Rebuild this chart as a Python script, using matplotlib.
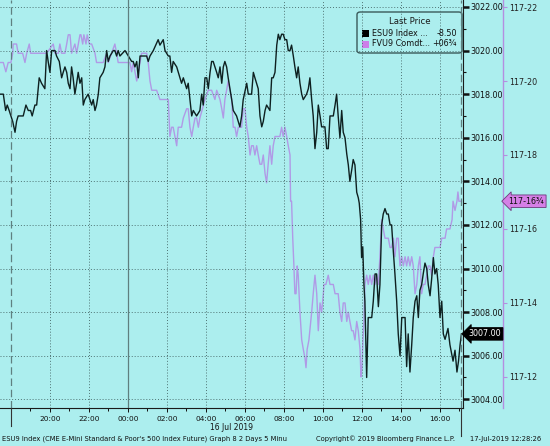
import matplotlib
matplotlib.use('Agg')
import matplotlib.pyplot as plt
import matplotlib.transforms as mtransforms
from matplotlib.lines import Line2D
from matplotlib.patches import FancyBboxPatch, Rectangle

# hours relative to 00:00 on 16 Jul 2019
es_hours = [-6.56, -6.39, -6.27, -6.19, -6.09, -6.00, -5.91, -5.79, -5.71, -5.63,
            -5.45, -5.37, -5.23, -5.11, -4.99, -4.91, -4.77, -4.68, -4.55, -4.43,
            -4.26, -4.17, -4.09, -4.00, -3.91, -3.74, -3.66, -3.52, -3.40, -3.32,
            -3.23, -3.14, -3.06, -2.97, -2.89, -2.81, -2.72, -2.63, -2.55, -2.46,
            -2.37, -2.29, -2.21, -2.04, -1.95, -1.86, -1.78, -1.69, -1.61, -1.52,
            -1.44, -1.27, -1.18, -1.09, -1.01, -0.92, -0.75, -0.67, -0.58, -0.50,
            -0.41, -0.15, 0.02, 0.19, 0.27, 0.36, 0.45, 0.53, 0.62, 0.96,
            1.04, 1.13, 1.30, 1.55, 1.64, 1.81, 1.90, 2.07, 2.15, 2.24,
            2.32, 2.50, 2.67, 2.75, 2.84, 3.01, 3.09, 3.27, 3.35, 3.52,
            3.69, 3.78, 3.86, 3.95, 4.04, 4.12, 4.21, 4.29, 4.37, 4.46,
            4.55, 4.63, 4.72, 4.81, 4.89, 4.97, 5.06, 5.14, 5.23, 5.32,
            5.40, 5.57, 5.74, 5.83, 5.91, 6.09, 6.17, 6.34, 6.43, 6.51,
            6.68, 6.77, 6.86, 6.94, 7.03, 7.11, 7.28, 7.37, 7.45, 7.54,
            7.63, 7.71, 7.79, 7.88, 7.96, 8.05, 8.14, 8.22, 8.31, 8.39,
            8.48, 8.56, 8.65, 8.73, 8.82, 8.91, 8.99, 9.16, 9.25, 9.33,
            9.42, 9.50, 9.59, 9.68, 9.76, 9.85, 9.93, 10.10, 10.19, 10.27,
            10.36, 10.53, 10.62, 10.70, 10.78, 10.87, 10.96, 11.04, 11.13, 11.22,
            11.30, 11.38, 11.47, 11.55, 11.64, 11.73, 11.81, 11.86, 11.93, 11.98,
            12.04, 12.10, 12.15, 12.24, 12.32, 12.50, 12.58, 12.67, 12.75, 12.84,
            12.92, 13.01, 13.09, 13.18, 13.27, 13.35, 13.44, 13.52, 13.61, 13.69,
            13.78, 13.86, 13.95, 14.04, 14.21, 14.29, 14.37, 14.46, 14.55, 14.63,
            14.72, 14.81, 14.89, 14.97, 15.06, 15.14, 15.23, 15.32, 15.40, 15.49,
            15.57, 15.66, 15.74, 15.83, 15.91, 16.00, 16.09, 16.17, 16.26, 16.41,
            16.51, 16.67, 16.77, 16.87, 16.95, 17.03, 17.10]
es_price = [3018.0, 3018.0, 3017.25, 3017.5, 3017.25, 3017.0, 3016.75, 3016.25, 3016.75, 3017.0,
            3017.0, 3017.0, 3017.5, 3017.25, 3017.25, 3017.0, 3017.5, 3017.5, 3018.75, 3018.5,
            3018.25, 3020.0, 3019.5, 3019.0, 3020.0, 3020.0, 3019.75, 3019.5, 3018.75, 3019.0,
            3019.25, 3019.0, 3018.5, 3018.25, 3019.25, 3018.75, 3018.0, 3018.5, 3019.0, 3018.5,
            3018.75, 3017.5, 3017.75, 3018.0, 3017.75, 3017.5, 3017.75, 3017.25, 3017.5, 3018.0,
            3018.75, 3019.0, 3019.25, 3020.0, 3019.5, 3019.75, 3020.0, 3020.0, 3019.75, 3020.0,
            3019.75, 3020.0, 3019.75, 3019.5, 3019.5, 3019.25, 3019.5, 3018.75, 3019.75, 3019.75,
            3019.5, 3019.75, 3020.0, 3020.5, 3020.25, 3020.5, 3020.0, 3019.75, 3019.75, 3019.0,
            3019.5, 3019.25, 3018.75, 3018.5, 3018.75, 3018.25, 3018.5, 3017.0, 3017.25, 3017.0,
            3017.25, 3018.0, 3017.5, 3018.75, 3018.75, 3018.25, 3019.0, 3019.5, 3019.5, 3019.25,
            3019.0, 3018.75, 3019.25, 3018.5, 3019.25, 3019.5, 3019.25, 3018.75, 3018.25, 3017.75,
            3017.25, 3017.0, 3016.5, 3017.0, 3017.75, 3018.5, 3018.0, 3018.0, 3019.0, 3018.75,
            3018.25, 3017.0, 3016.5, 3016.75, 3017.25, 3017.5, 3017.25, 3018.75, 3018.75, 3019.0,
            3020.25, 3020.75, 3020.5, 3020.75, 3020.75, 3020.5, 3020.5, 3020.0, 3020.0, 3020.25,
            3019.75, 3019.25, 3018.75, 3019.25, 3018.5, 3018.0, 3017.75, 3018.0, 3018.25, 3018.75,
            3017.75, 3017.0, 3015.5, 3016.25, 3017.5, 3017.0, 3016.5, 3016.5, 3015.5, 3015.5,
            3017.0, 3017.0, 3017.5, 3018.0, 3017.0, 3016.0, 3017.25, 3016.25, 3016.0, 3015.25,
            3014.75, 3014.0, 3014.5, 3015.0, 3014.75, 3013.5, 3013.25, 3013.0, 3012.25, 3010.5,
            3011.0, 3009.25, 3008.5, 3005.0, 3007.75, 3007.75, 3008.5, 3009.75, 3009.75, 3008.25,
            3009.25, 3012.0, 3012.5, 3012.75, 3012.5, 3012.5, 3012.0, 3012.0, 3010.75, 3009.75,
            3008.5, 3007.0, 3006.0, 3007.75, 3007.75, 3005.5, 3007.0, 3005.25, 3006.5, 3007.75,
            3008.5, 3008.75, 3007.75, 3009.0, 3009.25, 3009.75, 3010.25, 3010.0, 3009.25, 3008.75,
            3009.5, 3010.5, 3009.75, 3010.0, 3009.25, 3007.75, 3008.5, 3007.0, 3006.75, 3007.25,
            3006.5, 3005.75, 3006.25, 3005.25, 3005.75, 3006.5, 3007.0]

fv_hours = [-6.56, -6.39, -6.26, -6.14, -6.00, -5.91, -5.88, -5.71, -5.63, -5.40,
            -5.28, -5.19, -5.06, -4.99, -4.17, -3.83, -3.74, -3.57, -3.49, -3.40,
            -3.23, -3.14, -3.06, -2.97, -2.89, -2.72, -2.63, -2.46, -2.41, -2.32,
            -2.26, -2.15, -2.09, -1.98, -1.86, -1.69, -1.61, -1.27, -1.09, -1.01,
            -0.84, -0.67, -0.58, -0.50, 0.10, 0.19, 0.27, 0.36, 0.45, 0.53,
            0.62, 0.70, 0.96, 1.04, 1.13, 1.22, 1.47, 1.64, 2.07, 2.15,
            2.24, 2.32, 2.41, 2.50, 2.58, 2.75, 2.84, 3.01, 3.09, 3.18,
            3.27, 3.35, 3.44, 3.52, 3.61, 3.69, 3.95, 4.12, 4.29, 4.46,
            4.55, 4.72, 4.81, 4.89, 4.97, 5.06, 5.14, 5.23, 5.32, 5.40,
            5.49, 5.57, 5.66, 5.74, 5.83, 5.91, 6.00, 6.09, 6.17, 6.26,
            6.34, 6.43, 6.51, 6.60, 6.68, 6.77, 6.86, 6.94, 7.03, 7.11,
            7.19, 7.28, 7.37, 7.45, 7.54, 7.63, 7.71, 7.79, 7.88, 7.96,
            8.05, 8.14, 8.22, 8.31, 8.34, 8.39, 8.45, 8.51, 8.56, 8.62,
            8.68, 8.73, 8.82, 8.91, 8.99, 9.08, 9.13, 9.19, 9.28, 9.42,
            9.50, 9.59, 9.68, 9.76, 9.85, 9.93, 10.02, 10.05, 10.15, 10.27,
            10.36, 10.53, 10.62, 10.70, 10.78, 10.87, 10.96, 11.04, 11.13, 11.22,
            11.30, 11.38, 11.47, 11.55, 11.64, 11.73, 11.81, 11.90, 11.95, 12.00,
            12.05, 12.10, 12.15, 12.24, 12.32, 12.41, 12.50, 12.58, 12.67, 12.75,
            12.84, 12.92, 13.01, 13.09, 13.18, 13.27, 13.35, 13.44, 13.52, 13.61,
            13.69, 13.78, 13.86, 13.95, 14.04, 14.12, 14.21, 14.29, 14.37, 14.46,
            14.55, 14.63, 14.72, 14.81, 14.89, 14.97, 15.06, 15.14, 15.23, 15.32,
            15.40, 15.49, 15.57, 15.66, 15.74, 15.83, 16.00, 16.09, 16.17, 16.26,
            16.34, 16.43, 16.51, 16.62, 16.67, 16.77, 16.87, 16.92, 16.97, 17.03,
            17.10]
# FVU9 price in 32nds above the 117 handle
fv_32nds = [20.5, 20.5, 20.25, 20.5, 20.5, 20.75, 21.0, 21.0, 20.75, 20.75,
            20.5, 20.75, 21.0, 20.75, 20.75, 21.0, 20.75, 20.75, 21.0, 20.75,
            20.75, 21.0, 21.25, 21.25, 20.75, 21.0, 20.75, 21.25, 21.25, 21.0,
            21.25, 21.0, 21.25, 21.0, 21.0, 20.75, 20.5, 20.5, 20.75, 20.5,
            20.75, 21.0, 20.75, 20.5, 20.5, 20.25, 20.5, 20.25, 20.0, 20.25,
            20.5, 20.75, 20.75, 20.5, 20.0, 19.75, 19.75, 19.5, 19.5, 18.5,
            18.75, 18.75, 18.5, 18.25, 18.75, 18.75, 19.0, 19.25, 19.25, 18.75,
            18.5, 18.75, 19.0, 19.0, 18.75, 19.0, 19.5, 19.75, 19.75, 19.5,
            19.75, 19.5, 19.25, 19.0, 19.5, 19.75, 20.0, 19.75, 19.5, 18.75,
            18.75, 18.5, 18.75, 18.75, 18.75, 19.25, 19.25, 18.75, 18.5, 18.0,
            18.25, 18.25, 18.0, 18.25, 18.0, 17.75, 17.75, 18.0, 17.5, 17.25,
            17.75, 18.25, 17.75, 18.25, 18.5, 18.5, 18.5, 18.5, 18.75, 18.5,
            18.75, 18.5, 18.25, 18.0, 16.75, 16.75, 15.75, 15.0, 14.25, 14.25,
            15.0, 14.75, 13.75, 13.0, 12.75, 12.5, 12.25, 12.75, 13.0, 13.75,
            14.25, 14.75, 14.25, 13.25, 14.0, 13.75, 14.25, 14.5, 14.5, 14.75,
            14.5, 14.5, 14.25, 14.25, 14.25, 13.75, 13.5, 14.0, 14.0, 13.5,
            13.75, 13.5, 13.25, 13.25, 13.0, 13.5, 13.25, 12.75, 12.0, 12.25,
            13.0, 13.5, 14.5, 14.75, 14.5, 14.75, 14.5, 14.75, 14.5, 14.75,
            14.5, 15.25, 16.25, 16.0, 15.75, 15.75, 15.75, 15.5, 15.5, 15.75,
            15.25, 15.75, 15.75, 15.0, 15.25, 15.0, 15.25, 15.0, 15.25, 15.0,
            15.25, 15.0, 14.25, 14.5, 15.0, 15.25, 14.25, 14.5, 14.5, 14.75,
            15.0, 15.0, 14.75, 15.25, 15.5, 15.5, 15.5, 15.75, 15.75, 15.75,
            16.0, 16.0, 16.0, 16.25, 16.75, 16.5, 16.75, 17.0, 16.75, 16.75,
            16.75]

es_ticks = list(range(3004, 3023, 2))
fv_ticks = list(range(12, 23, 2))
hour_ticks = list(range(-4, 17, 2))
session_open = -6.0
last_bar = 17.08

BG = '#aceeee'
W, H = 550, 446


def fx(px):
    return px / W


def fy(py):
    return 1 - py / H


fig = plt.figure(figsize=(5.5, 4.46), dpi=100, facecolor=BG)
ax = fig.add_axes([0, fy(408), fx(463), 408 / H])
ax2 = ax.twinx()
ax.set_zorder(ax2.get_zorder() + 1)
ax.patch.set_visible(False)
ax2.patch.set_facecolor(BG)

# lines
ax2.plot(fv_hours, fv_32nds, color='#b09ae6', lw=1.0)
ax.plot(es_hours, es_price, color='#0e2020', lw=1.0)

ax.set_xlim(-6.56, 17.18)
ax.set_ylim(3003.6, 3022.32)
ax2.set_ylim(11.16, 22.19)

# grid
ax.grid(True, which='major', ls=(0, (1, 2)), color='#4f7474', lw=0.7)
ax.axvline(0, color='#5f7f7f', lw=0.9)
for t in [session_open, last_bar]:
    ax.axvline(t, color='#5f8080', lw=0.9, ls=(0, (6, 3)))

# spines
for s in ['top', 'left']:
    ax.spines[s].set_visible(False)
    ax2.spines[s].set_visible(False)
ax2.spines['bottom'].set_visible(False)
ax.spines['right'].set_color('#1a1a1a')
ax.spines['bottom'].set_color('#1a1a1a')
ax.spines['bottom'].set_linewidth(0.8)
ax2.spines['right'].set_position(('axes', 503 / 463))
ax2.spines['right'].set_color('#b48ee0')
ax2.spines['right'].set_linewidth(1.0)

# y ticks ES
ax.yaxis.tick_right()
ax.set_yticks(es_ticks)
ax.set_yticklabels(['%.2f' % v for v in es_ticks])
ax.set_yticks([v + 1 for v in es_ticks[:-1]], minor=True)
ax.tick_params(axis='y', which='major', direction='out', length=4, width=1.8,
               labelsize=5.8, pad=1, colors='#111111')
ax.tick_params(axis='y', which='minor', direction='out', length=2, width=0.8,
               colors='#111111')

# y ticks FV
ax2.set_yticks(fv_ticks)
ax2.set_yticklabels(['117-%d' % v for v in fv_ticks])
ax2.set_yticks([v + 1 for v in fv_ticks[:-1]], minor=True)
ax2.tick_params(axis='y', which='major', direction='out', length=3, width=0.8,
                labelsize=5.8, pad=1.5, color='#b48ee0', labelcolor='#222222')
ax2.tick_params(axis='y', which='minor', length=0)

# x ticks
ax.set_xticks(hour_ticks)
ax.set_xticklabels(['%02d:00' % (h % 24) for h in hour_ticks])
ax.set_xticks([h for h in range(-6, 18) if h % 2], minor=True)
ax.tick_params(axis='x', which='major', direction='out', length=3, width=0.7,
               labelsize=5.3, pad=2.5, colors='#111111')
ax.tick_params(axis='x', which='minor', direction='out', length=2, width=0.7,
               colors='#111111')

# session marks below the axis
fig.add_artist(Line2D([fx(11), fx(11)], [fy(408), fy(426)], color='#333333', lw=0.8))
fig.add_artist(Line2D([fx(461), fx(461)], [fy(408), fy(436)], color='#333333', lw=0.8))

# last price tags
tr1 = mtransforms.blended_transform_factory(ax.transAxes, ax.transData)
ax.text(1.012, es_price[-1], '%.2f' % es_price[-1], transform=tr1, ha='left',
        va='center', color='white', fontsize=5.8, zorder=10,
        bbox=dict(boxstyle='larrow,pad=0.22', fc='black', ec='black', lw=0.6))
tr2 = mtransforms.blended_transform_factory(ax2.transAxes, ax2.transData)
ax2.text(503 / 463 + 0.012, fv_32nds[-1], '117-16\u00be', transform=tr2, ha='left',
         va='center', color='#111111', fontsize=5.8, zorder=10,
         bbox=dict(boxstyle='larrow,pad=0.22', fc='#d57fe6', ec='#6a3a7a', lw=0.6))

# legend
fig.add_artist(FancyBboxPatch((fx(357), fy(53)), fx(462) - fx(357), fy(12) - fy(53),
                              boxstyle='round,pad=0,rounding_size=0.006',
                              transform=fig.transFigure, fc=BG, ec='#3a5a5a', lw=1.0))
fig.text(fx(410), fy(22), 'Last Price', ha='center', va='center', fontsize=6.2, color='#1a1a1a')
fig.add_artist(Rectangle((fx(362), fy(37)), fx(7), 7 / H, transform=fig.transFigure,
                         fc='#000000', ec='none'))
fig.add_artist(Rectangle((fx(362), fy(48)), fx(7), 7 / H, transform=fig.transFigure,
                         fc='#cc7ee8', ec='none'))
fig.text(fx(372), fy(33), 'ESU9 Index ...', ha='left', va='center', fontsize=5.8, color='#111111')
fig.text(fx(457), fy(33), '-8.50', ha='right', va='center', fontsize=5.8, color='#111111')
fig.text(fx(372), fy(44), 'FVU9 Comdt...', ha='left', va='center', fontsize=5.8, color='#111111')
fig.text(fx(457), fy(44), '+06\u00be', ha='right', va='center', fontsize=5.8, color='#111111')

# footer
fig.text(fx(232), fy(428), '16 Jul 2019', ha='center', va='center', fontsize=5.5, color='#111111')
fig.text(fx(2), fy(439), "ESU9 Index (CME E-Mini Standard & Poor's 500 Index Future) Graph 8 2 Days 5 Minu",
         ha='left', va='center', fontsize=4.9, color='#111111')
fig.text(fx(316), fy(439), 'Copyright\u00a9 2019 Bloomberg Finance L.P.',
         ha='left', va='center', fontsize=4.9, color='#111111')
fig.text(fx(470), fy(439), '17-Jul-2019 12:28:26', ha='left', va='center',
         fontsize=4.9, color='#111111')

fig.savefig('out.png', dpi=100, facecolor=BG)
